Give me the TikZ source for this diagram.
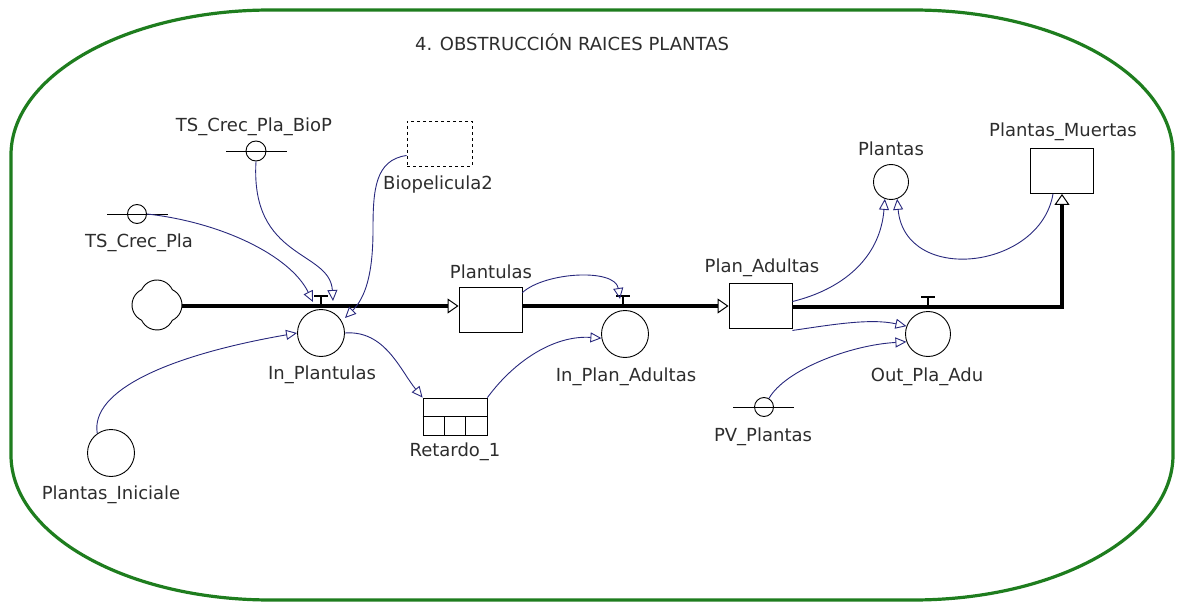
\documentclass[tikz,border=0pt]{standalone}
\usepackage{fontspec}
\setmainfont{DejaVu Sans}
\usetikzlibrary{arrows.meta,calc}
\definecolor{frame}{RGB}{30,125,30}
\definecolor{link}{RGB}{40,40,125}
\definecolor{txt}{RGB}{45,45,45}
\tikzset{
  lbl/.style={text=txt,font=\fontsize{18}{20}\selectfont,inner sep=0pt},
  stock/.style={draw=black,line width=0.9pt,minimum width=63pt,minimum height=45pt,inner sep=0pt},
  aux/.style={draw=black,line width=0.9pt,circle,minimum size=47pt,inner sep=0pt},
  smallaux/.style={draw=black,line width=0.9pt,circle,minimum size=20pt,inner sep=0pt},
  pipe/.style={line width=4pt,black,-{Triangle[open,length=11pt,width=15pt,line width=1pt]}},
  valvebar/.style={line width=1.8pt,black},
  conn/.style={link,line width=0.9pt,-{Triangle[open,length=11pt,width=10pt,line width=0.9pt]}},
  auxline/.style={black,line width=0.9pt}
}
\begin{document}
\begin{tikzpicture}[x=1pt,y=-1pt]
\useasboundingbox (0,0) rectangle (1178,604);
% frame
\draw[frame,line width=3.2pt] (271,10) -- (913,10)
  .. controls (1057,10) and (1173,75) .. (1173,155) -- (1173,455)
  .. controls (1173,535) and (1057,600) .. (913,600) -- (271,600)
  .. controls (127,600) and (11,535) .. (11,455) -- (11,155)
  .. controls (11,75) and (127,10) .. (271,10) -- cycle;
\node[lbl,anchor=west] (title) at (415,42) {4. OBSTRUCCIÓN RAICES PLANTAS};

% cloud source
\coordinate (cloud) at (157,305);
\draw[black,line width=0.9pt] ($(cloud)+(-15.34,-15.34)$)
  arc[start angle=205.6,end angle=334.4,radius=17]
  arc[start angle=-64.4,end angle=64.4,radius=17]
  arc[start angle=25.6,end angle=154.4,radius=17]
  arc[start angle=115.6,end angle=244.4,radius=17] -- cycle;
\coordinate (cloudE) at (182,306);

% stocks
\node[stock] (plu) at (490.5,309.5) {};
\node[lbl] (lplu) at (491,272) {Plantulas};
\node[stock] (pa) at (760.5,305.5) {};
\node[lbl] (lpa) at (762,268) {Plan\_Adultas};
\node[stock] (pm) at (1062,171) {};
\node[lbl] (lpm) at (1063,132) {Plantas\_Muertas};
\node[stock,dashed,minimum width=65pt] (bio) at (439.5,143.5) {};
\node[lbl,anchor=west] (lbio) at (383,185) {Biopelicula2};

% delay
\node[draw=black,line width=0.9pt,minimum width=64pt,minimum height=37pt,inner sep=0pt] (ret) at (455,416.5) {};
\draw[black,line width=0.9pt] (ret.west) -- (ret.east);
\draw[black,line width=0.9pt] ($(ret.south west)!1/3!(ret.south east)$) -- ($(ret.west)!1/3!(ret.east)$);
\draw[black,line width=0.9pt] ($(ret.south west)!2/3!(ret.south east)$) -- ($(ret.west)!2/3!(ret.east)$);
\node[lbl] (lret) at (455,452) {Retardo\_1};

% rate circles
\node[aux] (inpl) at (321,333) {};
\node[lbl] (linpl) at (322,375) {In\_Plantulas};
\node[aux] (inpa) at (625,334) {};
\node[lbl] (linpa) at (626,377) {In\_Plan\_Adultas};
\node[aux,minimum size=45pt] (outc) at (928,334) {};
\node[lbl] (lout) at (927,377) {Out\_Pla\_Adu};

% auxiliaries
\node[aux] (pi) at (111,453) {};
\node[lbl] (lpi) at (111,495) {Plantas\_Iniciale};
\node[aux,minimum size=35pt] (plantas) at (891,182) {};
\node[lbl] (lplantas) at (891,149) {Plantas};

% constants
\node[smallaux] (biopc) at (256,151) {};
\draw[auxline] ($(biopc.center)+(-30,0)$) -- ($(biopc.center)+(31,0)$);
\node[lbl] (lbiopc) at (254,127) {TS\_Crec\_Pla\_BioP};
\node[smallaux,minimum size=19pt] (tscp) at (137,214) {};
\draw[auxline] ($(tscp.center)+(-30,0)$) -- ($(tscp.center)+(31,0)$);
\node[lbl] (ltscp) at (139,243) {TS\_Crec\_Pla};
\node[smallaux,minimum size=19pt] (pvc) at (764,407) {};
\draw[auxline] ($(pvc.center)+(-31,0)$) -- ($(pvc.center)+(30,0)$);
\node[lbl] (lpv) at (763,437) {PV\_Plantas};

% valves
\coordinate (v1) at (321,306);
\coordinate (v2) at (623,306);
\coordinate (v3) at (928,307);
\coordinate (pmbend) at (1062,307);

% flows
\draw[pipe] (cloudE) -- (plu.west |- cloudE);
\draw[pipe] (plu.east |- v2) -- (pa.west |- v2);
\draw[pipe] (pa.east |- v3) -- (pmbend) -- (pm.south);
\foreach \v in {v1,v2,v3}{
  \draw[valvebar] (\v) -- ++(0,-10);
  \draw[valvebar] ($(\v)+(-7,-10)$) -- ($(\v)+(7,-10)$);
}

% connectors
\draw[conn] (tscp.east) .. controls (220,222) and (290,255) .. ($(v1)+(-8,-4)$);
\draw[conn] (biopc.south) .. controls (250,260) and (330,250) .. ($(v1)+(12,-5)$);
\draw[conn] (bio.200) .. controls (375,160) and (373,190) .. (373,230)
  .. controls (373,275) and (365,298) .. ($(v1)+(24,12)$);
\draw[conn] (pi.125) .. controls (90,390) and (170,355) .. (inpl.west);
\draw[conn] (inpl.east) .. controls (385,330) and (400,370) .. (ret.north west);
\draw[conn] (ret.north east) .. controls (515,360) and (555,335) .. (inpa.190);
\draw[conn] ([yshift=-6pt]plu.north east) .. controls (545,272) and (615,268) .. ($(v2)+(-3,-7)$);
\draw[conn] ([yshift=4pt]pa.east) .. controls (840,290) and (880,260) .. (plantas.250);
\draw[conn] ([xshift=-9pt]pm.south) .. controls (1040,270) and (905,285) .. (plantas.290);
\draw[conn] ([yshift=-2pt]pa.south east) .. controls (830,325) and (870,318) .. (outc.160);
\draw[conn] (pvc.60) .. controls (785,370) and (850,345) .. (outc.200);
\end{tikzpicture}
\end{document}
